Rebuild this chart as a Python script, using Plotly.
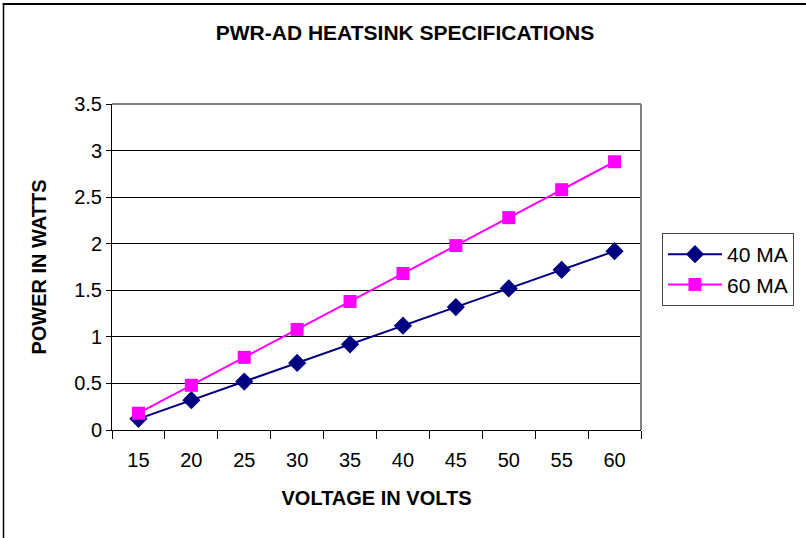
import plotly.graph_objects as go

voltage = ["15", "20", "25", "30", "35", "40", "45", "50", "55", "60"]
power_40ma = [0.12, 0.32, 0.52, 0.72, 0.92, 1.12, 1.32, 1.52, 1.72, 1.92]
power_60ma = [0.18, 0.48, 0.78, 1.08, 1.38, 1.68, 1.98, 2.28, 2.58, 2.88]
y_ticks = [0, 0.5, 1, 1.5, 2, 2.5, 3, 3.5]
y_tick_labels = ["0", "0.5", "1", "1.5", "2", "2.5", "3", "3.5"]

W, H = 806, 538
L, R, T, B = 112, 165, 104, 108
pw, ph = W - L - R, H - T - B

def px(x):
    return (x - L) / pw

def py(y):
    return (H - B - y) / ph

font = "Liberation Sans, Arial, sans-serif"

fig = go.Figure()
fig.add_trace(go.Scatter(
    x=voltage, y=power_40ma, name="40 MA", mode="lines+markers",
    line=dict(color="#000080", width=2),
    marker=dict(symbol="diamond", size=14, color="#000080"),
))
fig.add_trace(go.Scatter(
    x=voltage, y=power_60ma, name="60 MA", mode="lines+markers",
    line=dict(color="#FF00FF", width=2),
    marker=dict(symbol="square", size=13, color="#FF00FF"),
))

fig.update_layout(
    width=W, height=H,
    margin=dict(l=L, r=R, t=T, b=B),
    paper_bgcolor="white", plot_bgcolor="white",
    font=dict(family=font, color="black", size=19),
    title=dict(text="<b>PWR-AD HEATSINK SPECIFICATIONS</b>", x=405 / W, xanchor="center",
               y=1 - 33 / H, yanchor="middle", font=dict(size=21)),
    showlegend=True,
    legend=dict(x=px(662), y=py(233), xanchor="left", yanchor="top",
                bordercolor="#444", borderwidth=1, bgcolor="white",
                font=dict(size=21), tracegroupgap=2, itemwidth=54),
    xaxis=dict(
        type="category", tickson="boundaries", showgrid=False,
        showline=True, linecolor="black", linewidth=1,
        ticks="outside", ticklen=8, tickcolor="black",
        tickfont=dict(size=20), range=[-0.5, 9.5], ticklabelstandoff=12,
        title=dict(text="<b>VOLTAGE IN VOLTS</b>", font=dict(size=20), standoff=20),
    ),
    yaxis=dict(
        range=[0, 3.5], tickvals=y_ticks, ticktext=y_tick_labels,
        showgrid=True, gridcolor="black", gridwidth=1,
        showline=True, linecolor="black", linewidth=1,
        ticks="outside", ticklen=5, tickcolor="black",
        tickfont=dict(size=20), zeroline=False,
        title=dict(text="<b>POWER IN WATTS</b>", font=dict(size=20), standoff=22),
    ),
    shapes=[
        dict(type="line", xref="paper", yref="paper", layer="above",
             x0=px(3.5), x1=px(3.5), y0=py(H + 20), y1=py(3),
             line=dict(color="black", width=1.5)),
        dict(type="rect", xref="paper", yref="paper", layer="above",
             x0=px(2.75), x1=px(W + 20), y0=py(5), y1=py(3),
             line=dict(width=0), fillcolor="black"),
        dict(type="line", xref="paper", yref="paper", x0=0, x1=1, y0=1, y1=1,
             line=dict(color="#808080", width=2)),
        dict(type="line", xref="paper", yref="paper", x0=1, x1=1, y0=0, y1=1,
             line=dict(color="#808080", width=2)),
    ],
)

fig.write_html("out.html", config={"displayModeBar": False},
               post_script="document.body.style.margin='0';")
